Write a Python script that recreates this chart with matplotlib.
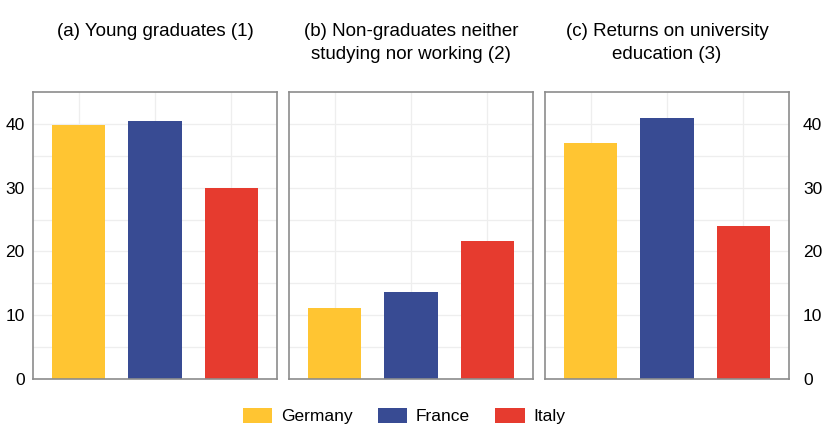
import matplotlib.pyplot as plt
from matplotlib import font_manager
from matplotlib.patches import Patch

# Data
countries = ["Germany", "France", "Italy"]
panel_titles = [
    "(a) Young graduates (1)",
    "(b) Non-graduates neither\nstudying nor working (2)",
    "(c) Returns on university\neducation (3)",
]
young_graduates = [39.8, 40.5, 30.0]
neet = [11.1, 13.6, 21.6]
returns = [37.0, 41.0, 24.0]
panel_values = [young_graduates, neet, returns]
colors = ["#FFC532", "#384B93", "#E63B2F"]
y_ticks = [0, 10, 20, 30, 40]

names = {f.name for f in font_manager.fontManager.ttflist}
narrow = "Liberation Sans Narrow" if "Liberation Sans Narrow" in names else "Liberation Sans"
plt.rcParams["font.family"] = ["Liberation Sans", "DejaVu Sans"]

fig = plt.figure(figsize=(8.25, 4.43), dpi=100)
W, H = 825, 443
lefts = [33, 289, 545]
pw = 244
top, bottom = 92, 379

axes = []
for i, vals in enumerate(panel_values):
    ax = fig.add_axes([lefts[i] / W, 1 - bottom / H, pw / W, (bottom - top) / H])
    x = range(len(vals))
    ax.bar(x, vals, width=0.7, color=colors, zorder=2)
    ax.set_xlim(-0.6, 2.6)
    ax.set_ylim(0, 45)
    ax.set_yticks(y_ticks)
    ax.set_yticks([5, 15, 25, 35], minor=True)
    ax.set_xticks(list(x))
    ax.set_xticklabels([])
    ax.grid(True, which="both", color="#eeeeee", linewidth=0.9, zorder=0)
    ax.tick_params(which="both", length=0, labelsize=12.5)
    for s in ax.spines.values():
        s.set_color("#8c8c8c")
        s.set_linewidth(1.2)
    if i == 0:
        ax.tick_params(labelleft=True, pad=6)
    elif i == 2:
        ax.yaxis.tick_right()
        ax.tick_params(labelright=True, labelleft=False, pad=10)
    else:
        ax.tick_params(labelleft=False)
    fig.text((lefts[i] + pw / 2) / W, 1 - 23 / H, panel_titles[i], ha="center", va="top",
             fontsize=13.5, family=[narrow, "DejaVu Sans"], linespacing=1.45)
    axes.append(ax)

handles = [Patch(facecolor=c, edgecolor="none") for c in colors]
fig.legend(handles, countries, loc="center", bbox_to_anchor=(404 / W, 1 - 416 / H), ncol=3,
           frameon=False, fontsize=12.5, handlelength=1.7, handleheight=1.0,
           columnspacing=1.45, handletextpad=0.5)

fig.savefig("out.png", dpi=100)
